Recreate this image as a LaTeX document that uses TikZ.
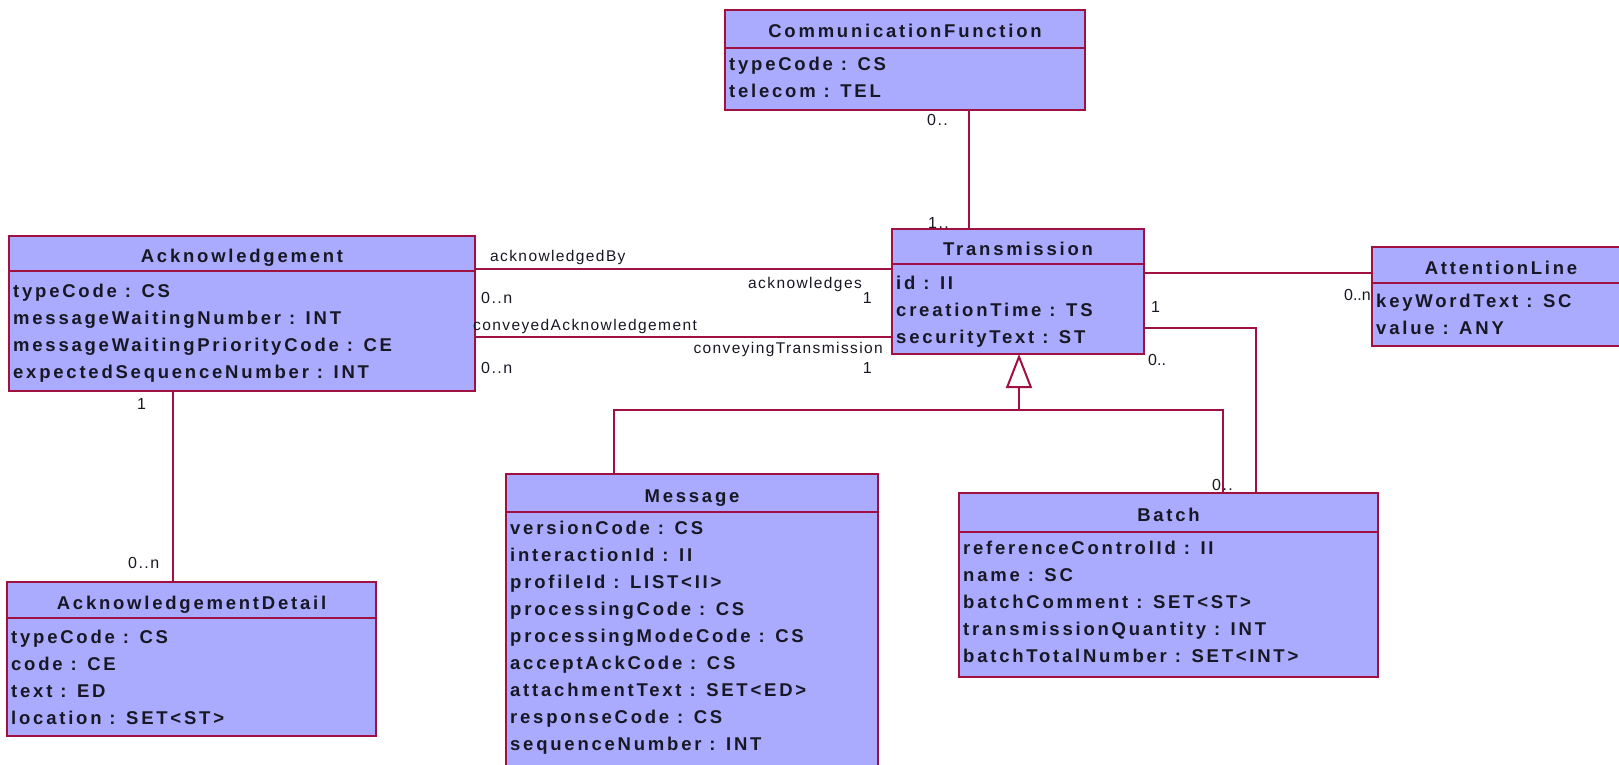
\documentclass[tikz,border=0pt]{standalone}
\usepackage{fontspec}
\setmainfont{Liberation Sans}
\newfontfamily\classfont{Liberation Sans}[LetterSpace=15]
\newfontfamily\rolefont{Liberation Sans}[LetterSpace=9]
\newfontfamily\tightfont{Liberation Sans}
\usetikzlibrary{arrows.meta}

\definecolor{umlfill}{RGB}{170,170,255}
\definecolor{umlline}{RGB}{160,16,64}
\definecolor{umltext}{RGB}{24,24,36}

\tikzset{
  classbox/.style={draw=umlline, fill=umlfill, line width=2pt, inner sep=0pt, outer sep=0pt},
  divider/.style={draw=umlline, line width=2pt},
  classtitle/.style={font={\classfont\bfseries\fontsize{18.5}{22}\selectfont}, text=umltext, inner sep=0pt, anchor=base},
  attr/.style={font={\classfont\bfseries\fontsize{18.5}{22}\selectfont}, text=umltext, inner sep=0pt, anchor=base west},
  assoc/.style={draw=umlline, line width=2pt},
  role/.style={font={\rolefont\fontsize{15.5}{18}\selectfont}, text=umltext, inner sep=0pt},
  mult/.style={font={\rolefont\fontsize{16}{18}\selectfont}, text=umltext, inner sep=0pt},
  tightmult/.style={font={\tightfont\fontsize{16}{18}\selectfont}, text=umltext, inner sep=0pt},
  generalization/.style={draw=umlline, line width=2pt,
    -{Triangle[open, length=34pt, width=26pt, line width=2pt]}},
}

% \umlclass{name}{x1}{y1}{x2}{y2}{divider y}{title}{attributes}{first baseline}
\newcommand\umlclass[9]{%
  \node[classbox, anchor=north west,
        minimum width={(#4-#2)*1pt}, minimum height={(#5-#3)*1pt}] (#1) at (#2,#3) {};
  \draw[divider] ([yshift={(#3-#6)*1pt}]#1.north west) -- ([yshift={(#3-#6)*1pt}]#1.north east);
  \node[classtitle] (#1-title) at ({(#2+#4)/2},{(#3+#6)/2+9}) {#7};
  \foreach \a [count=\i from 0] in {#8}
    \node[attr] (#1-a\i) at ({#2+4},{#9+27*\i}) {\a};
}

\begin{document}
\begin{tikzpicture}[x=1pt, y=-1pt]
\useasboundingbox[fill=white] (0,0) rectangle (1619,765);

% classes
\umlclass{cf}{725}{10}{1085}{110}{48}{CommunicationFunction}
  {typeCode : CS, telecom : TEL}{71}
\umlclass{ack}{9}{236}{475}{391}{271}{Acknowledgement}
  {typeCode : CS, messageWaitingNumber : INT, messageWaitingPriorityCode : CE,
   expectedSequenceNumber : INT}{297}
\umlclass{trans}{892}{229}{1144}{354}{264}{Transmission}
  {id : II, creationTime : TS, securityText : ST}{289}
\umlclass{attn}{1372}{247}{1630}{346}{283}{AttentionLine}
  {keyWordText : SC, value : ANY}{307}
\umlclass{msg}{506}{474}{878}{775}{512}{Message}
  {versionCode : CS, interactionId : II, profileId : LIST<II>, processingCode : CS,
   processingModeCode : CS, acceptAckCode : CS, attachmentText : SET<ED>,
   responseCode : CS, sequenceNumber : INT}{534}
\umlclass{batch}{959}{493}{1378}{677}{532}{Batch}
  {referenceControlId : II, name : SC, batchComment : SET<ST>,
   transmissionQuantity : INT, batchTotalNumber : SET<INT>}{554}
\umlclass{detail}{7}{582}{376}{736}{618}{AcknowledgementDetail}
  {typeCode : CS, code : CE, text : ED, location : SET<ST>}{643}

% associations
\draw[assoc] ([xshift=244pt]cf.south west) -- ([xshift=77pt]trans.north west);
\draw[assoc] ([yshift=-33pt]ack.north east) -- ([yshift=-40pt]trans.north west);
\draw[assoc] ([yshift=-101pt]ack.north east) -- ([yshift=-108pt]trans.north west);
\draw[assoc] ([yshift=-44pt]trans.north east) -- ([yshift=-26pt]attn.north west);
\draw[assoc] ([yshift=-99pt]trans.north east) -| ([xshift=297pt]batch.north west);
\draw[assoc] ([xshift=164pt]ack.south west) -- ([xshift=166pt]detail.north west);

% generalization of Message and Batch into Transmission
\coordinate (genjoin) at (1019,410);
\draw[assoc] ([xshift=108pt]msg.north west) |- (genjoin) -| ([xshift=264pt]batch.north west);
\draw[generalization] (genjoin) -- ([xshift=127pt]trans.south west);

% role names and multiplicities
\node[mult, anchor=base west] (cf-m) at (927,126) {0..};
\node[mult, anchor=base west] (trans-m-cf) at (928,228) {1..};
\node[role, anchor=base west] (ack-by) at (490,261) {acknowledgedBy};
\node[mult, anchor=base west] (ack-by-m) at (481,303) {0..n};
\node[role, anchor=base east] (acks) at (862,288) {acknowledges};
\node[mult, anchor=base east] (acks-m) at (872,303) {1};
\node[role, anchor=base west] (conv-ack) at (473,330) {conveyedAcknowledgement};
\node[mult, anchor=base west] (conv-ack-m) at (481,373) {0..n};
\node[role, anchor=base east] (conv-trans) at (883,353) {conveyingTransmission};
\node[mult, anchor=base east] (conv-trans-m) at (872,373) {1};
\node[mult, anchor=base west] (trans-m-attn) at (1151,312) {1};
\node[tightmult, anchor=base east] (attn-m) at (1371,300) {0..n};
\node[tightmult, anchor=base west] (trans-m-batch) at (1148,365) {0..};
\node[mult, anchor=base west] (batch-m) at (1212,490) {0..};
\node[mult, anchor=base west] (ack-m-detail) at (137,409) {1};
\node[mult, anchor=base west] (detail-m) at (128,568) {0..n};
\end{tikzpicture}
\end{document}
